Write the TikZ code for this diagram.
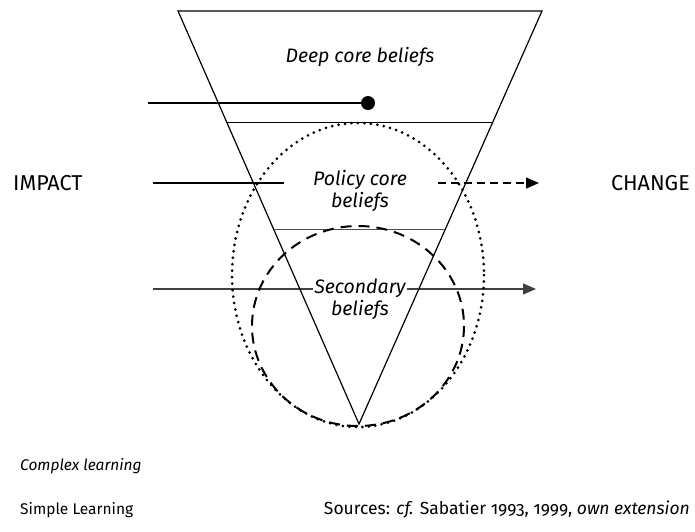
\documentclass[tikz,border=0pt]{standalone}
\usepackage{fontspec}
\setmainfont{Fira Sans}[Numbers=OldStyle]
\usepackage{tikz}
\usetikzlibrary{arrows.meta,positioning,calc}
\tikzstyle{belief}=[font=\itshape\fontsize{19.5}{22}\selectfont,align=center,inner sep=1pt]
\tikzstyle{side}=[font=\fontsize{21.5}{24}\selectfont,inner sep=0pt]
\tikzstyle{legend}=[font=\fontsize{15.5}{18}\selectfont,inner sep=0pt,anchor=west]
\tikzstyle{flow}=[line width=1.4pt,-{Triangle[length=13pt,width=11pt]}]

\begin{document}
\begin{tikzpicture}[x=1pt,y=-1pt]
\useasboundingbox (0,0) rectangle (695,531);
% impacts, drawn below the labels
\coordinate (a1) at (148,103);
\coordinate (a2) at (153,183);
\coordinate (a3) at (153,289);
\coordinate (b1) at (284,183);
\coordinate (b2) at (438,183);
\coordinate (b3) at (539,183);
\coordinate (b4) at (536,289);
\draw [flow,black!75] (a3) -- (b4);
% labels
\node [belief] (deep) at (360,57) {Deep core beliefs};
\node [belief] (policy) at (360,191) {Policy core\\beliefs};
\node [belief,fill=white] (second) at (360,299) {Secondary\\beliefs};
\node [side,anchor=west] (impact) at (13,183) {IMPACT};
\node [side,anchor=east] (change) at (690,183) {CHANGE};
\node [legend] (complex) at (20,466) {\itshape Complex learning};
\node [legend] (simple) at (20,510) {Simple Learning};
\node [legend,font=\fontsize{17.5}{20}\selectfont,anchor=east] (source) at (690,510)
  {Sources: \textit{cf.} Sabatier 1993, 1999, \textit{own extension}};
% funnel
\coordinate (tl) at (178,11);
\coordinate (tr) at (542,11);
\coordinate (apex) at (359,424);
\draw [line width=1.2pt] (tl) -- (tr) -- (apex) -- cycle;
\draw [line width=1.2pt] ($(tl)!0.270!(apex)$) -- ($(tr)!0.270!(apex)$);
\draw [line width=1.2pt,black!70] ($(tl)!0.530!(apex)$) -- ($(tr)!0.530!(apex)$);
% learning loops
\draw [line width=3pt,line cap=round,dash pattern=on 0pt off 6.5pt] (358,275) ellipse [x radius=126,y radius=152];
\draw [line width=2pt,dash pattern=on 11pt off 7pt] (358,326) ellipse [x radius=106,y radius=100];
\node [circle,fill=black,minimum size=14pt,inner sep=0pt] (dot) at (368,103) {};
\draw [flow,-] (a1) -- (dot);
\draw [flow,-] (a2) -- (b1);
\draw [flow,dash pattern=on 8pt off 5pt] (b2) -- (b3);
\end{tikzpicture}
\end{document}
